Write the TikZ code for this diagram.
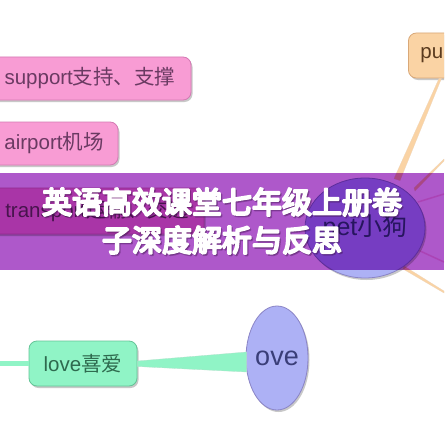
\documentclass[tikz,border=0pt]{standalone}
\usepackage{fontspec}
\setmainfont{Liberation Sans}
\newfontfamily\cjk{Noto Sans CJK SC}
\usetikzlibrary{shapes.geometric,shadows,calc}
\definecolor{pinkfill}{HTML}{F89CD4}
\definecolor{pinkdraw}{HTML}{D47AB4}
\definecolor{pinktext}{HTML}{6A3A62}
\definecolor{peachfill}{HTML}{FAD3A4}
\definecolor{peachdraw}{HTML}{D9A878}
\definecolor{peachtext}{HTML}{5A3A1E}
\definecolor{mintfill}{HTML}{90F4C6}
\definecolor{mintdraw}{HTML}{64C497}
\definecolor{minttext}{HTML}{2E6A4E}
\definecolor{lavfill}{HTML}{ADB1F5}
\definecolor{lavdraw}{HTML}{8A84C6}
\definecolor{lavtext}{HTML}{3A3E78}
\definecolor{bannercol}{HTML}{AE58CA}
\definecolor{titleshade}{HTML}{3A1048}
\newcommand\zh[1]{{\cjk #1}}
\newcommand\heavyon{\special{pdf:literal direct 2 Tr 2.1 w 1 j}}
\newcommand\heavyoff{\special{pdf:literal direct 0 Tr}}
\begin{document}
\begin{tikzpicture}[x=1pt,y=-1pt,
  shadowed/.style={drop shadow={shadow xshift=1.5pt, shadow yshift=-2pt, opacity=0.3, fill=black!70}},
  box/.style={shadowed, rounded corners=8pt, draw, line width=0.8pt, inner sep=0pt,
    font=\fontsize{20.5}{24}\selectfont},
  pinkbox/.style={box, fill=pinkfill, draw=pinkdraw, text=pinktext},
  peachbox/.style={box, fill=peachfill, draw=peachdraw, text=peachtext},
  mintbox/.style={box, fill=mintfill, draw=mintdraw, text=minttext},
  lavell/.style={shadowed, ellipse, draw=lavdraw, line width=0.8pt, fill=lavfill, text=lavtext, inner sep=0pt},
  peachline/.style={fill=peachfill, draw=peachdraw!50, line width=0.2pt},
  pinkline/.style={draw=pinkfill!60, line width=1.5pt, line cap=round},
  mintline/.style={fill=mintfill, draw=mintdraw!50, line width=0.3pt},
  titlefont/.style={font=\cjk\fontsize{30}{38}\selectfont, align=center}
]
\useasboundingbox (0,0) rectangle (444,444);
\clip (0,0) rectangle (444,444);
\fill[white] (0,0) rectangle (444,444);

% nodes
\node[pinkbox, minimum width=202pt, minimum height=43pt] (support) at (90,78.5) {support\zh{支持、支撑}};
\node[pinkbox, minimum width=128pt, minimum height=43pt] (airport) at (54,143.5) {airport\zh{机场}};
\node[pinkbox, minimum width=214pt, minimum height=46pt] (transport) at (97,211) {transport\zh{运输、交通}};
\node[peachbox, anchor=west, minimum height=45pt, text width=40pt, inner xsep=12pt, align=left] (pu) at (408,55.5) {pu};

% connectors around pet
\coordinate (c1) at (444,160);
\coordinate (c2) at (444,194);
\coordinate (c3) at (444,262);
\coordinate (c4) at (444,292);
\draw[pinkline] (418,202) -- (c2);
\draw[pinkline] (418,250) -- (c3);
\fill[peachline] (414,188) -- ($(c1)+(0,-1)$) -- ($(c1)+(0,1)$) -- (415,191) -- cycle;
\fill[peachline] (404,266) -- ($(c4)+(0,-1)$) -- ($(c4)+(0,1)$) -- (403,269) -- cycle;

\node[lavell, minimum width=120pt, minimum height=100pt, font=\fontsize{25}{28}\selectfont] (pet) at (365,228) {pet\zh{小狗}};

% pu -> pet tapered connector
\coordinate (putop1) at ($(pu.south west)+(31,0)$);
\coordinate (putop2) at ($(pu.south west)+(33.5,0)$);
\filldraw[peachline] (putop1) -- (putop2) -- ($(pet.north)+(35,3)$) -- ($(pet.north)+(29,1)$) -- cycle;

% love branch
\node[mintbox, minimum width=108pt, minimum height=45pt] (love) at (83,363.5) {love\zh{喜爱}};
\coordinate (lstart) at (0,363.5);
\draw[mintfill, line width=5pt] (lstart) -- (love.west);
\node[lavell, minimum width=62pt, minimum height=104pt, font=\fontsize{27}{30}\selectfont] (ove) at (277,358) {ove};
\filldraw[mintline] ($(love.east)+(0,-2.5)$) -- ($(ove.west)+(1,-6)$) -- ($(ove.west)+(1,14)$) -- ($(love.east)+(0,3)$) -- cycle;

% banner
\begin{scope}[blend mode=multiply]
\fill[bannercol] (0,173) rectangle (444,270);
\end{scope}

% title
\node[titlefont, text=titleshade, opacity=0.35] (titleshadow) at (223.3,222.5) {\heavyon 英语高效课堂七年级上册卷\\子深度解析与反思\heavyoff};
\node[titlefont, text=white] (title) at (222,221) {\heavyon 英语高效课堂七年级上册卷\\子深度解析与反思\heavyoff};
\end{tikzpicture}
\end{document}
